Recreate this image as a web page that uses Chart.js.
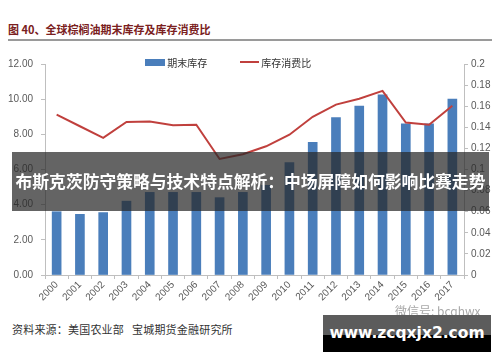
<!DOCTYPE html>
<html>
<head>
    <meta charset="utf-8">
    <script src="https://cdn.jsdelivr.net/npm/chart.js"></script>
    <style>
        body { margin: 0; background: #fff; }
        .page { position: relative; width: 500px; height: 362px; overflow: hidden; font-family: "Noto Sans CJK SC", sans-serif; }
        .title { position: absolute; left: 8px; top: 21px; font-size: 11px; font-weight: bold; color: #7a2020; }
        .rule { position: absolute; left: 8px; top: 39px; width: 484px; height: 2px; background: #9a9a9a; }
        .chart-box { position: absolute; left: 0; top: 50px; width: 500px; height: 262px; }
        .legend { position: absolute; top: 53px; font-size: 10px; color: #333; }
        .legend span { display: inline-block; vertical-align: middle; }
        .source { position: absolute; left: 12px; top: 321px; font-size: 11px; color: #333; letter-spacing: 0.2px; }
        .banner { position: absolute; left: 12px; top: 152px; width: 477px; height: 59px; background: rgba(40, 40, 40, 0.72);
                  color: #fff; font-size: 16.8px; font-weight: bold; line-height: 59px; text-align: center; white-space: nowrap; }
        .wechat { position: absolute; left: 395px; top: 302px; font-size: 12px; color: #a8a8a8; }
        .mark { position: absolute; left: 323px; top: 315px; width: 168px; height: 37px;
                background: linear-gradient(#5c5c5c 0, #5c5c5c 54%, #000 54%, #000 100%);
                color: #fff; font-family: "DejaVu Sans", sans-serif; font-weight: bold; font-size: 15.5px;
                line-height: 37px; text-align: center; }
    </style>
</head>
<body>
<div class="page">
    <div class="title">图 40、全球棕榈油期末库存及库存消费比</div>
    <div class="rule"></div>
    <div class="chart-box"><canvas id="combo"></canvas></div>
    <div class="legend" style="left:145px"><span style="width:20px;height:7px;background:#4a7ebb"></span> <span>期末库存</span></div>
    <div class="legend" style="left:240px"><span style="width:19px;height:2px;background:#c0403d"></span> <span>库存消费比</span></div>
    <div class="source">资料来源：美国农业部&nbsp;&nbsp;&nbsp;宝城期货金融研究所</div>
    <div class="wechat">微信号: bcqhwx</div>
    <div class="banner">布斯克茨防守策略与技术特点解析：中场屏障如何影响比赛走势</div>
    <div class="mark">www.zcqxjx2.com</div>
</div>

<script>
    const years = ['2000', '2001', '2002', '2003', '2004', '2005', '2006', '2007', '2008',
                   '2009', '2010', '2011', '2012', '2013', '2014', '2015', '2016', '2017'];
    // 期末库存 (left axis)
    const stocks = [3.6, 3.45, 3.55, 4.2, 4.7, 4.7, 4.7, 4.4, 4.7,
                    5.1, 6.4, 7.55, 8.95, 9.6, 10.25, 8.6, 8.6, 10.0];
    // 库存消费比 (right axis)
    const ratio = [0.152, 0.141, 0.130, 0.145, 0.1455, 0.142, 0.1425, 0.110, 0.1145,
                   0.122, 0.133, 0.150, 0.1615, 0.167, 0.1745, 0.1445, 0.1425, 0.1605];

    const axisColor = '#bfbfbf';
    const tickFont = { family: 'Liberation Sans', size: 10 };

    new Chart(document.getElementById('combo'), {
        data: {
            labels: years,
            datasets: [{
                type: 'line',
                label: '库存消费比',
                data: ratio,
                yAxisID: 'y1',
                borderColor: '#c0403d',
                borderWidth: 2,
                pointRadius: 0,
                tension: 0
            }, {
                type: 'bar',
                label: '期末库存',
                data: stocks,
                yAxisID: 'y',
                backgroundColor: '#4a7ebb',
                barThickness: 9
            }]
        },
        options: {
            responsive: true,
            maintainAspectRatio: false,
            animation: false,
            layout: { padding: { top: 12 } },
            plugins: { legend: { display: false }, tooltip: { enabled: false } },
            scales: {
                x: {
                    offset: true,
                    grid: { offset: true, drawOnChartArea: false, color: axisColor, tickLength: 4 },
                    border: { color: axisColor },
                    ticks: { color: '#595959', font: tickFont, minRotation: 45, maxRotation: 45, padding: 0 },
                    afterFit: s => { s.height = 37; }
                },
                y: {
                    position: 'left',
                    min: 0, max: 12,
                    grid: { drawOnChartArea: false, color: axisColor, tickLength: 4 },
                    border: { color: axisColor },
                    ticks: { stepSize: 2, color: '#595959', font: tickFont, padding: 8,
                             callback: v => v.toFixed(2) },
                    afterFit: s => { s.width = 45; }
                },
                y1: {
                    position: 'right',
                    min: 0, max: 0.2,
                    grid: { drawOnChartArea: false, color: axisColor, tickLength: 4 },
                    border: { color: axisColor },
                    ticks: { stepSize: 0.02, color: '#595959', font: tickFont, padding: 3,
                             callback: v => String(+v.toFixed(2)) },
                    afterFit: s => { s.width = 36; }
                }
            }
        }
    });
</script>
</body>
</html>
